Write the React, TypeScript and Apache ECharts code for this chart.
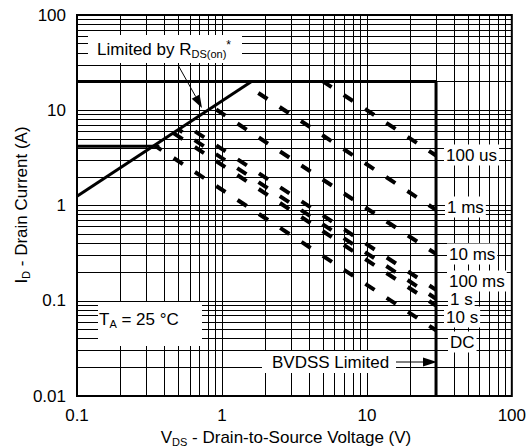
import React, { useEffect, useRef } from "react";
import * as echarts from "echarts";

const FONT = '"Liberation Sans", Arial, Helvetica, sans-serif';

// axis ticks
const xTicks = [0.1, 1, 10, 100];
const xTickLabels = ["0.1", "1", "10", "100"];
const yTicks = [0.01, 0.1, 1, 10, 100];
const yTickLabels = ["0.01", "0.1", "1", "10", "100"];

// log grid lines
const xGridLines = [
  0.2, 0.3, 0.4, 0.5, 0.6, 0.7, 0.8, 0.9,
  1, 2, 3, 4, 5, 6, 7, 8, 9,
  10, 20, 30, 40, 50, 60, 70, 80, 90,
];
const yGridLines = [
  0.02, 0.03, 0.04, 0.05, 0.06, 0.07, 0.08, 0.09,
  0.1, 0.2, 0.3, 0.4, 0.5, 0.6, 0.7, 0.8, 0.9,
  1, 2, 3, 4, 5, 6, 7, 8, 9,
  10, 20, 30, 40, 50, 60, 70, 80, 90,
];

// boundary lines [V, A]
const rdsLimit = [[0.1, 1.25], [1.6, 20]];
const currentLimit = [[0.1, 20], [30, 20]];
const dcCurrentLimit = [[0.1, 4.2], [0.37, 4.2]];
const bvdssLimit = [[30, 20], [30, 0.01]];

// pulse lines [V, A]
const pulseNames = ["100 us", "1 ms", "10 ms", "100 ms", "1 s", "10 s", "DC"];
const pulse100us = [[5, 20], [30, 3.35]];
const pulse1ms = [[1.47, 18.4], [30, 0.9]];
const pulse10ms = [[0.86, 10.8], [30, 0.31]];
const pulse100ms = [[0.56, 7.0], [30, 0.13]];
const pulse1s = [[0.5, 6.3], [30, 0.105]];
const pulse10s = [[0.46, 5.8], [30, 0.089]];
const pulseDc = [[0.34, 4.3], [30, 0.049]];
const pulses = [pulse100us, pulse1ms, pulse10ms, pulse100ms, pulse1s, pulse10s, pulseDc];

// label placement (style, pixels)
const pulseLabelPos = [
  [446, 155], [447, 207], [449, 254], [449, 281], [450, 299], [446, 317], [450, 342],
];

const DASH = 11;
const DASH_ANCHOR_X = 178; // px column of dash centres
const DASH_STEP_X = 21.3;

function tickFmt(ticks: number[], labels: string[]) {
  return (v: number) => {
    const i = ticks.findIndex((t) => Math.abs(Math.log10(t) - Math.log10(v)) < 1e-6);
    return i >= 0 ? labels[i] : "";
  };
}

export default function App() {
  const ref = useRef<HTMLDivElement>(null);
  useEffect(() => {
    if (!ref.current) return;
    const chart = echarts.init(ref.current, null, { renderer: "svg" });
    const solid = (id: string, data: number[][]) => ({
      id,
      type: "line",
      data,
      showSymbol: false,
      symbol: "none",
      silent: true,
      z: 3,
      lineStyle: { color: "#000", width: 3, cap: "butt" },
    });
    const option: any = {
      animation: false,
      backgroundColor: "#fff",
      grid: {
        left: 77,
        top: 15,
        right: 13,
        bottom: 51,
        show: true,
        borderColor: "#000",
        borderWidth: 2,
        backgroundColor: "#fff",
      },
      xAxis: {
        type: "log",
        logBase: 10,
        min: 0.1,
        max: 100,
        axisLine: { show: false },
        axisTick: { show: false },
        splitLine: { show: false },
        axisLabel: {
          color: "#000",
          fontFamily: FONT,
          fontSize: 17,
          margin: 11,
          formatter: tickFmt(xTicks, xTickLabels),
        },
      },
      yAxis: {
        type: "log",
        logBase: 10,
        min: 0.01,
        max: 100,
        axisLine: { show: false },
        axisTick: { show: false },
        splitLine: { show: false },
        axisLabel: {
          color: "#000",
          fontFamily: FONT,
          fontSize: 17,
          margin: 11,
          formatter: tickFmt(yTicks, yTickLabels),
        },
      },
      series: [
        {
          id: "grid",
          type: "line",
          data: [],
          z: 1,
          silent: true,
          markLine: {
            silent: true,
            symbol: ["none", "none"],
            label: { show: false },
            lineStyle: { color: "#000", width: 1, type: "solid" },
            emphasis: { disabled: true },
            data: [
              ...xGridLines.map((v) => ({ xAxis: v })),
              ...yGridLines.map((v) => ({ yAxis: v })),
            ],
          },
        },
        solid("rds", rdsLimit),
        solid("cur", currentLimit),
        solid("dccur", dcCurrentLimit),
        solid("bvdss", bvdssLimit),
        ...pulses.map((p, i) => ({
          id: "pulse" + i,
          name: pulseNames[i],
          type: "line",
          data: p,
          showSymbol: false,
          symbol: "none",
          silent: true,
          z: 3,
          lineStyle: { color: "#000", width: 4, type: [DASH, 14], cap: "butt", dashOffset: 0 },
        })),
      ],
      graphic: [
        // Limited by RDS(on) box
        { type: "rect", z: 10, shape: { x: 88, y: 35, width: 154, height: 28 }, style: { fill: "#fff" } },
        {
          type: "text", z: 11, x: 97, y: 49,
          style: {
            text: "{n|Limited by R}{s|DS(on)}{p|*}",
            align: "left", verticalAlign: "middle",
            rich: {
              n: { fontFamily: FONT, fontSize: 17, lineHeight: 20, fill: "#000", color: "#000" },
              s: { fontFamily: FONT, fontSize: 11, lineHeight: 10, verticalAlign: "bottom", fill: "#000", color: "#000" },
              p: { fontFamily: FONT, fontSize: 12, lineHeight: 12, verticalAlign: "top", fill: "#000", color: "#000" },
            },
          },
        },
        { type: "line", z: 11, shape: { x1: 178, y1: 65, x2: 195.7, y2: 96.6 }, style: { stroke: "#000", lineWidth: 1 } },
        { type: "polygon", z: 11, shape: { points: [[202, 108], [191.7, 98.8], [199.6, 94.4]] }, style: { fill: "#000" } },
        // TA box
        { type: "rect", z: 10, shape: { x: 98, y: 302, width: 104, height: 44 }, style: { fill: "#fff" } },
        {
          type: "text", z: 11, x: 99, y: 319,
          style: {
            text: "{n|T}{s|A}{n| = 25 °C}",
            align: "left", verticalAlign: "middle",
            rich: {
              n: { fontFamily: FONT, fontSize: 17, lineHeight: 20, fill: "#000", color: "#000" },
              s: { fontFamily: FONT, fontSize: 11, lineHeight: 10, verticalAlign: "bottom", fill: "#000", color: "#000" },
            },
          },
        },
        // BVDSS box
        { type: "rect", z: 10, shape: { x: 262, y: 351, width: 134, height: 22 }, style: { fill: "#fff" } },
        {
          type: "text", z: 11, x: 272, y: 362,
          style: { text: "BVDSS Limited", font: `17px ${FONT}`, fill: "#000", align: "left", verticalAlign: "middle" },
        },
        { type: "line", z: 11, shape: { x1: 396, y1: 362, x2: 424, y2: 362 }, style: { stroke: "#000", lineWidth: 1 } },
        { type: "polygon", z: 11, shape: { points: [[437, 362], [423, 357.5], [423, 366.5]] }, style: { fill: "#000" } },
        // pulse labels
        ...pulseNames.map((name, i) => ({
          type: "text", z: 11, x: pulseLabelPos[i][0] - 2, y: pulseLabelPos[i][1],
          style: {
            text: name, font: `17px ${FONT}`, fill: "#000",
            align: "left", verticalAlign: "middle",
            backgroundColor: "#fff", padding: [2, 2],
          },
        })),
        // axis titles
        {
          type: "text", z: 11, x: 286, y: 437,
          style: {
            text: "{n|V}{s|DS}{n| - Drain-to-Source Voltage (V)}",
            align: "center", verticalAlign: "middle",
            rich: {
              n: { fontFamily: FONT, fontSize: 17, lineHeight: 20, fill: "#000", color: "#000" },
              s: { fontFamily: FONT, fontSize: 11, lineHeight: 10, verticalAlign: "bottom", fill: "#000", color: "#000" },
            },
          },
        },
        {
          type: "text", z: 11, x: 21, y: 205, rotation: Math.PI / 2,
          style: {
            text: "{n|I}{s|D}{n| - Drain Current (A)}",
            align: "center", verticalAlign: "middle",
            rich: {
              n: { fontFamily: FONT, fontSize: 17, lineHeight: 20, fill: "#000", color: "#000" },
              s: { fontFamily: FONT, fontSize: 11, lineHeight: 10, verticalAlign: "bottom", fill: "#000", color: "#000" },
            },
          },
        },
      ],
    };
    chart.setOption(option);

    // align dash pattern columns like the reference
    const upd = pulses.map((p, i) => {
      const a = chart.convertToPixel({ gridIndex: 0 } as any, p[0]) as number[];
      const b = chart.convertToPixel({ gridIndex: 0 } as any, p[1]) as number[];
      const dx = b[0] - a[0];
      const f = Math.hypot(b[0] - a[0], b[1] - a[1]) / dx;
      const stepAlong = DASH_STEP_X * f;
      const off = (((DASH / 2 - (DASH_ANCHOR_X - a[0]) * f) % stepAlong) + stepAlong) % stepAlong;
      return {
        id: "pulse" + i,
        lineStyle: { type: [DASH, stepAlong - DASH], dashOffset: off },
      };
    });
    chart.setOption({ series: upd });

    return () => chart.dispose();
  }, []);
  return (
    <div
      ref={ref}
      style={{ position: "fixed", left: 0, top: 0, width: 529, height: 447, background: "#fff" }}
    />
  );
}
